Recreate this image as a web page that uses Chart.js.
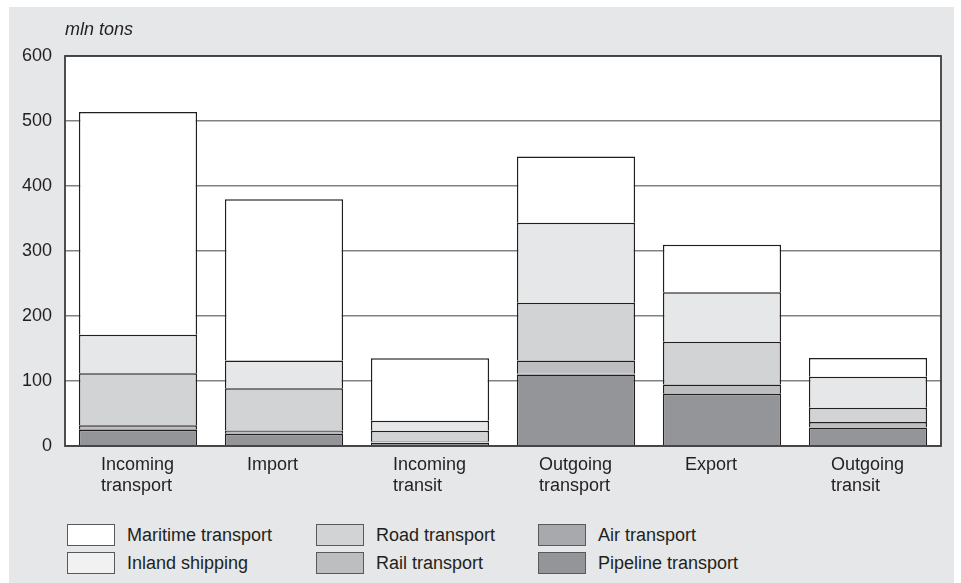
<!DOCTYPE html>
<html>
<head>
<meta charset="utf-8">
<script src="https://cdn.jsdelivr.net/npm/chart.js@4/dist/chart.umd.min.js"></script>
<style>
  html, body { margin:0; padding:0; background:#ffffff; width:961px; height:583px; overflow:hidden;
    font-family:"Liberation Sans", Arial, sans-serif; }
  #panel { position:absolute; left:9px; top:7px; width:945px; height:576px; background:#e6e7e8; }
  #chart { position:absolute; left:0; top:0; }
  .item { position:absolute; display:flex; align-items:center; font-size:18px; color:#231f20; white-space:nowrap; }
  .box { width:48px; height:22px; border:1px solid #58595b; box-sizing:border-box; margin-right:12px; }
</style>
</head>
<body>
<div id="panel">
  <canvas id="chart" width="945" height="500"></canvas>
  <div id="legend"></div>
</div>
<script>
// ---- data (mln tons) ----
const categories = [["Incoming", "transport"], "Import", ["Incoming", "transit"], ["Outgoing", "transport"], "Export", ["Outgoing", "transit"]];
const pipeline = [25, 19, 5, 110, 80.5, 28.5];
const air      = [1, 1, 0.5, 1, 1, 0.5];
const rail     = [6, 4, 2, 20.5, 13, 8];
const road     = [80, 65, 16, 89, 66, 22];
const inland   = [59, 42.5, 15.5, 123, 76, 47.5];
const maritime = [343, 248, 96, 102, 73, 29];
const yTicks   = [0, 100, 200, 300, 400, 500, 600];
const yTitle   = "mln tons";

const seriesNames  = ["Pipeline transport", "Air transport", "Rail transport", "Road transport", "Inland shipping", "Maritime transport"];
const seriesValues = [pipeline, air, rail, road, inland, maritime];
const seriesColors = ["#939598", "#a7a9ac", "#bcbec0", "#d1d3d4", "#e6e7e8", "#ffffff"];

const FONT = "'Liberation Sans', Arial, sans-serif";
const TEXT = "#231f20";

const datasets = seriesNames.map((name, i) => ({
  label: name,
  data: seriesValues[i],
  backgroundColor: seriesColors[i],
  borderColor: "#231f20",
  borderWidth: 1.5,
  borderSkipped: "start",
  barPercentage: 0.81,
  categoryPercentage: 1.0
}));

const framePlugin = {
  id: "frame",
  beforeDraw(chart) {
    const {ctx, chartArea: a} = chart;
    ctx.save();
    ctx.fillStyle = "#ffffff";
    ctx.fillRect(a.left, a.top, a.right - a.left, a.bottom - a.top);
    ctx.restore();
  },
  afterDraw(chart) {
    const {ctx, chartArea: a} = chart;
    ctx.save();
    ctx.strokeStyle = "#3d3d3f";
    ctx.lineWidth = 1.8;
    ctx.strokeRect(a.left, a.top, a.right - a.left, a.bottom - a.top);
    ctx.fillStyle = TEXT;
    ctx.font = "italic 18px " + FONT;
    ctx.textBaseline = "middle";
    ctx.textAlign = "left";
    ctx.fillText(yTitle, a.left, a.top - 26);
    ctx.restore();
  }
};

new Chart(document.getElementById("chart"), {
  type: "bar",
  data: { labels: categories, datasets },
  options: {
    responsive: false,
    animation: false,
    layout: { padding: { left: 0, top: 49, right: 13, bottom: 0 } },
    plugins: { legend: { display: false }, title: { display: false }, tooltip: { enabled: false } },
    scales: {
      x: {
        stacked: true,
        offset: true,
        grid: { display: false, drawTicks: false },
        border: { display: false },
        ticks: {
          color: TEXT, font: { family: FONT, size: 18, lineHeight: 1.2 },
          align: "start", labelOffset: -37, padding: 8,
          maxRotation: 0, minRotation: 0, autoSkip: false
        },
        afterFit(s) { s.height = 61; }
      },
      y: {
        stacked: true,
        min: yTicks[0], max: yTicks[yTicks.length - 1],
        afterBuildTicks(s) { s.ticks = yTicks.map(v => ({ value: v })); },
        grid: { color: "#808285", lineWidth: 1.5, drawTicks: false },
        border: { display: false },
        ticks: { color: TEXT, font: { family: FONT, size: 18 }, padding: 13 },
        afterFit(s) { s.width = 56; }
      }
    }
  },
  plugins: [framePlugin]
});

// ---- legend (3 columns x 2 rows, like the original) ----
const legendOrder = [["Maritime transport", "Inland shipping"], ["Road transport", "Rail transport"], ["Air transport", "Pipeline transport"]];
const colX = [58, 307, 529];
const rowY = [517, 545];
const legend = document.getElementById("legend");
legendOrder.forEach((col, ci) => col.forEach((name, ri) => {
  const idx = seriesNames.indexOf(name);
  const el = document.createElement("div");
  el.className = "item";
  el.style.left = colX[ci] + "px";
  el.style.top = rowY[ri] + "px";
  const box = document.createElement("div");
  box.className = "box";
  box.style.background = name === "Inland shipping" ? "#f1f1f2" : seriesColors[idx];
  const txt = document.createElement("span");
  txt.textContent = name;
  el.appendChild(box); el.appendChild(txt);
  legend.appendChild(el);
}));
</script>
</body>
</html>
